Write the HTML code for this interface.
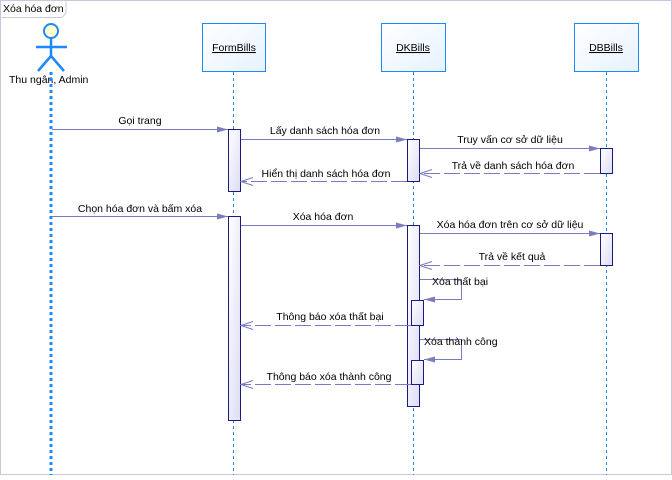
<!DOCTYPE html>
<html><head><meta charset="utf-8"><style>
body{margin:0;background:#fff;}
text{font-family:"Liberation Sans",sans-serif;font-size:10.5px;fill:#000;}
</style></head><body>
<svg width="672" height="475" xmlns="http://www.w3.org/2000/svg">
<defs>
<linearGradient id="g" x1="0" y1="0" x2="1" y2="1"><stop offset="0" stop-color="#fff"/><stop offset="1" stop-color="#dcdcf6"/></linearGradient>
<linearGradient id="gb" x1="0" y1="0" x2="1" y2="1"><stop offset="0" stop-color="#fff"/><stop offset="1" stop-color="#e6f2ff"/></linearGradient>
<marker id="f" markerWidth="12" markerHeight="8" refX="11" refY="4" orient="auto" markerUnits="userSpaceOnUse"><path d="M0,1 L11,4 L0,7 Z" fill="#7b7bbf"/></marker>
<marker id="o" markerWidth="14" markerHeight="10" refX="13" refY="5" orient="auto" markerUnits="userSpaceOnUse"><path d="M1,1 L13,5 L1,9" fill="none" stroke="#7b7bbf"/></marker>
</defs>
<rect x="0.5" y="0.5" width="671" height="474" fill="none" stroke="#c8c8dc"/>
<path d="M0.5,17.5 H62 L66,13 V0.5" fill="#fff" stroke="#c8c8dc"/>
<text x="3" y="12">Xóa hóa đơn</text>
<!-- actor -->
<circle cx="51" cy="31" r="7" fill="#ffffcc" stroke="#1e88ff" stroke-width="2"/>
<g stroke="#1e88ff" stroke-width="2.5" fill="none"><line x1="51" y1="38" x2="51" y2="57"/><line x1="36" y1="47" x2="67" y2="47"/><line x1="51" y1="56" x2="38" y2="71"/><line x1="51" y1="56" x2="64" y2="71"/></g>
<text x="9" y="83">Thu ngân, Admin</text>
<line x1="51" y1="72" x2="51" y2="475" stroke="#1e88ff" stroke-width="3" stroke-dasharray="3,3"/>
<!-- boxes -->
<g stroke="#1e88ff" fill="url(#gb)"><rect x="202.5" y="23.5" width="63" height="48"/><rect x="381.5" y="23.5" width="64" height="48"/><rect x="574.5" y="23.5" width="64" height="48"/></g>
<text x="234" y="51" text-anchor="middle" text-decoration="underline">FormBills</text>
<text x="413" y="51" text-anchor="middle" text-decoration="underline">DKBills</text>
<text x="606" y="51" text-anchor="middle" text-decoration="underline">DBBills</text>
<g stroke="#1e88ff" stroke-dasharray="3,3"><line x1="233.5" y1="72" x2="233.5" y2="475"/><line x1="413.5" y1="72" x2="413.5" y2="475"/><line x1="606.5" y1="72" x2="606.5" y2="475"/></g>
<!-- activations -->
<g stroke="#1a1a80" fill="url(#g)">
<rect x="228.5" y="129.5" width="12" height="62"/><rect x="228.5" y="216.5" width="12" height="204"/>
<rect x="407.5" y="139.5" width="12" height="42"/><rect x="407.5" y="225.5" width="12" height="181"/>
<rect x="600.5" y="148.5" width="12" height="25"/><rect x="600.5" y="233.5" width="12" height="32"/>
<rect x="411.5" y="300.5" width="12" height="25"/><rect x="411.5" y="360.5" width="12" height="24"/>
</g>
<!-- messages -->
<g stroke="#7b7bbf" fill="none">
<line x1="52" y1="129.5" x2="228" y2="129.5" marker-end="url(#f)"/>
<line x1="241" y1="139.5" x2="407" y2="139.5" marker-end="url(#f)"/>
<line x1="420" y1="148.5" x2="600" y2="148.5" marker-end="url(#f)"/>
<line x1="600" y1="173.5" x2="420" y2="173.5" stroke-dasharray="16,4" marker-end="url(#o)"/>
<line x1="407" y1="181.5" x2="241" y2="181.5" stroke-dasharray="16,4" marker-end="url(#o)"/>
<line x1="52" y1="216.5" x2="228" y2="216.5" marker-end="url(#f)"/>
<line x1="241" y1="225.5" x2="407" y2="225.5" marker-end="url(#f)"/>
<line x1="420" y1="233.5" x2="600" y2="233.5" marker-end="url(#f)"/>
<line x1="600" y1="265.5" x2="420" y2="265.5" stroke-dasharray="16,4" marker-end="url(#o)"/>
<path d="M420,279.5 H461.5 V299.5 H424" marker-end="url(#f)"/>
<line x1="411" y1="325.5" x2="241" y2="325.5" stroke-dasharray="16,4" marker-end="url(#o)"/>
<path d="M420,339.5 H461.5 V359.5 H424" marker-end="url(#f)"/>
<line x1="411" y1="384.5" x2="241" y2="384.5" stroke-dasharray="16,4" marker-end="url(#o)"/>
</g>
<text x="140" y="124" text-anchor="middle">Gọi trang</text>
<text x="325" y="134" text-anchor="middle">Lấy danh sách hóa đơn</text>
<text x="510" y="143" text-anchor="middle">Truy vấn cơ sở dữ liệu</text>
<text x="513" y="169" text-anchor="middle">Trả về danh sách hóa đơn</text>
<text x="326" y="177" text-anchor="middle">Hiển thị danh sách hóa đơn</text>
<text x="140" y="212" text-anchor="middle">Chọn hóa đơn và bấm xóa</text>
<text x="323" y="220" text-anchor="middle">Xóa hóa đơn</text>
<text x="510" y="228" text-anchor="middle">Xóa hóa đơn trên cơ sở dữ liệu</text>
<text x="512" y="260" text-anchor="middle">Trả về kết quả</text>
<text x="432" y="285">Xóa thất bại</text>
<text x="330" y="320" text-anchor="middle">Thông báo xóa thất bại</text>
<text x="424" y="345">Xóa thành công</text>
<text x="329" y="380" text-anchor="middle">Thông báo xóa thành công</text>
</svg>
</body></html>
